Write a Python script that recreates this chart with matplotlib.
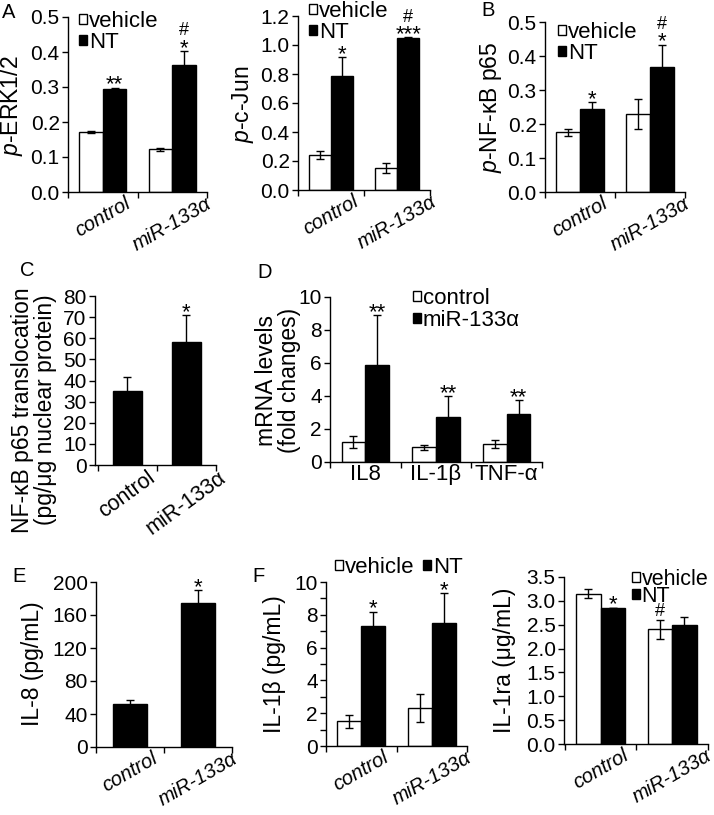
import numpy as np
import matplotlib.pyplot as plt

plt.rcParams['font.family'] = ['Liberation Sans', 'DejaVu Sans']
plt.rcParams['mathtext.fontset'] = 'custom'
plt.rcParams['mathtext.rm'] = 'Liberation Sans'
plt.rcParams['mathtext.it'] = 'Liberation Sans:italic'
plt.rcParams['axes.linewidth'] = 1.0

W, H = 714, 815

groups = ['control', 'miR-133α']
treat = ['vehicle', 'NT']

# A: rows = vehicle, NT ; columns = control, miR-133α
erk = [[0.171, 0.122], [0.294, 0.363]]
erk_sd = [[0.002, 0.004], [0.004, 0.040]]
erk_sig = [[[], []], [['**'], ['*', '#']]]

jun = [[0.240, 0.152], [0.786, 1.050]]
jun_sd = [[0.027, 0.035], [0.130, 0.005]]
jun_sig = [[[], []], [['*'], ['***', '#']]]

# B
p65 = [[0.176, 0.229], [0.244, 0.368]]
p65_sd = [[0.010, 0.045], [0.020, 0.065]]
p65_sig = [[[], []], [['*'], ['*', '#']]]

# C
trans = [35, 58]
trans_sd = [6.5, 13]
trans_sig = [[], ['*']]

# D
genes = ['IL8', 'IL-1β', 'TNF-α']
mrna = [[1.2, 0.9, 1.1], [5.85, 2.75, 2.9]]
mrna_sd = [[0.35, 0.15, 0.25], [3.05, 1.25, 0.85]]
mrna_sig = [[[], [], []], [['**'], ['**'], ['**']]]

# E
il8 = [52, 174]
il8_sd = [5, 16]
il8_sig = [[], ['*']]

# F
il1b = [[1.5, 2.3], [7.3, 7.5]]
il1b_sd = [[0.4, 0.85], [0.9, 1.8]]
il1b_sig = [[[], []], [['*'], ['*']]]

il1ra = [[3.15, 2.40], [2.85, 2.50]]
il1ra_sd = [[0.10, 0.20], [0.005, 0.17]]
il1ra_sig = [[[], ['#']], [['*'], []]]

TICK = 15
XLAB = 14.5
LAB = 16.5
LEG = 16
STAR = 16
HASH = 13

fig = plt.figure(figsize=(W / 100, H / 100), dpi=100)
PT = 100 / 72  # pixels per point


def px(x, y):
    return x / W, 1 - y / H


def make_ax(l, t, r, b):
    ax = fig.add_axes([l / W, 1 - b / H, (r - l) / W, (b - t) / H])
    ax.spines[['top', 'right']].set_visible(False)
    ax.tick_params(axis='y', length=4, width=1, labelsize=TICK, pad=2)
    ax.tick_params(axis='x', which='major', length=0, labelsize=XLAB, pad=1.5)
    ax.tick_params(axis='x', which='minor', length=4, width=1)
    return ax


def yscale(ax, lim, ticks, fmt):
    ax.set_ylim(*lim)
    ax.set_yticks(ticks, [fmt.format(t) for t in ticks])


def xcats(ax, n, labels, xlim, rot=30, italic=True, size=XLAB):
    x = np.arange(n)
    ax.set_xlim(*xlim)
    ax.set_xticks(x, labels, rotation=rot, ha='center', fontsize=size,
                  fontstyle='italic' if italic else 'normal')
    ax.set_xticks(np.arange(n + 1) - 0.5, minor=True)


def marks(ax, xs, tops, sigs):
    # stacked marks: centre of level k sits 10 + 12*k px above the error bar
    for x, t, s in zip(xs, tops, sigs):
        for k, txt in enumerate(s):
            if txt == '#':
                fs, frac = HASH, 0.36
            else:
                fs, frac = STAR, 0.58
            centre = 10 + 12 * k
            off = (centre - frac * fs * PT) / PT
            ax.annotate(txt, (x, t), xytext=(0, off), textcoords='offset points',
                        ha='center', va='baseline', fontsize=fs)


def grouped(ax, means, sds, sigs, width):
    x = np.arange(len(means[0]))
    colors = ['white', 'black']
    handles = []
    for i in range(len(means)):
        pos = x + (i - 0.5) * width
        b = ax.bar(pos, means[i], width, color=colors[i], edgecolor='black',
                   linewidth=1, zorder=2)
        ax.errorbar(pos, means[i], yerr=sds[i], fmt='none', ecolor='black',
                    elinewidth=1, capsize=3, capthick=1, zorder=3)
        marks(ax, pos, np.array(means[i]) + np.array(sds[i]), sigs[i])
        handles.append(b)
    return handles


def single(ax, means, sds, sigs, width):
    x = np.arange(len(means))
    ax.bar(x, means, width, color='black', edgecolor='black', linewidth=1, zorder=2)
    ax.errorbar(x, means, yerr=sds, fmt='none', ecolor='black',
                elinewidth=1, capsize=3, capthick=1, zorder=3)
    marks(ax, x, np.array(means) + np.array(sds), sigs)


def legend(ax, handles, labels, x, y, ncol=1, spacing=0.0, size=LEG):
    ax.legend(handles, labels, loc='upper left', bbox_to_anchor=px(x, y),
              bbox_transform=fig.transFigure, frameon=False, ncol=ncol,
              handlelength=0.35, handleheight=0.35, handletextpad=0.1,
              labelspacing=spacing, columnspacing=0.4, borderpad=0,
              borderaxespad=0, fontsize=size)


def ylab(text, x, y):
    fig.text(*px(x, y), text, rotation=90, ha='center', va='center',
             fontsize=LAB, linespacing=0.95, multialignment='center')


def letter(s, x, y):
    fig.text(*px(x, y), s, ha='center', va='center', fontsize=14.5)


# ---- A: p-ERK1/2
ax = make_ax(68, 17, 207, 192)
h = grouped(ax, erk, erk_sd, erk_sig, 0.34)
yscale(ax, (0, 0.5), np.arange(0, 0.51, 0.1), '{:.1f}')
xcats(ax, 2, groups, (-0.5, 1.48))
legend(ax, h, treat, 79, 11)
ylab('$\\it{p}$-ERK1/2', 12, 106)
letter('A', 9, 12)

# ---- A: p-c-Jun
ax = make_ax(298, 16, 430, 190)
h = grouped(ax, jun, jun_sd, jun_sig, 0.34)
yscale(ax, (0, 1.2), np.arange(0, 1.21, 0.2), '{:.1f}')
xcats(ax, 2, groups, (-0.5, 1.38))
legend(ax, h, treat, 309, 1)
ylab('$\\it{p}$-c-Jun', 243, 104)

# ---- B: p-NF-kB p65
ax = make_ax(545, 22, 685, 192)
h = grouped(ax, p65, p65_sd, p65_sig, 0.34)
yscale(ax, (0, 0.5), np.arange(0, 0.51, 0.1), '{:.1f}')
xcats(ax, 2, groups, (-0.5, 1.48))
legend(ax, h, treat, 558, 22)
ylab('$\\it{p}$-NF-κB p65', 491, 107)
letter('B', 488, 10)

# ---- C: translocation
ax = make_ax(95, 296, 216, 465)
single(ax, trans, trans_sd, trans_sig, 0.49)
yscale(ax, (0, 80), np.arange(0, 81, 10), '{:.0f}')
xcats(ax, 2, groups, (-0.55, 1.5), rot=36, italic=False, size=15.5)
ylab('NF-κB p65 translocation\n(pg/μg nuclear protein)', 34, 410)
letter('C', 27, 270)

# ---- D: mRNA
ax = make_ax(330, 297, 542, 462)
h = grouped(ax, mrna, mrna_sd, mrna_sig, 0.335)
yscale(ax, (0, 10), np.arange(0, 11, 2), '{:.0f}')
xcats(ax, 3, genes, (-0.5, 2.5), rot=0, italic=False, size=16)
legend(ax, h, ['control', 'miR-133α'], 413, 288, spacing=0.05)
ylab('mRNA levels\n(fold changes)', 278, 380)
letter('D', 265, 272)

# ---- E: IL-8
ax = make_ax(96, 582, 232, 747)
single(ax, il8, il8_sd, il8_sig, 0.5)
yscale(ax, (0, 200), np.arange(0, 201, 40), '{:.0f}')
xcats(ax, 2, groups, (-0.5, 1.5))
ylab('IL-8 (pg/mL)', 33, 664)
letter('E', 19, 576)

# ---- F: IL-1b
ax = make_ax(326, 582, 467, 746)
h = grouped(ax, il1b, il1b_sd, il1b_sig, 0.34)
yscale(ax, (0, 10), np.arange(0, 11, 2), '{:.0f}')
ax.set_yticks(np.arange(1, 10, 2), minor=True)
ax.tick_params(axis='y', which='minor', length=4, width=1)
xcats(ax, 2, groups, (-0.5, 1.5))
legend(ax, h, treat, 335, 557, ncol=2)
ylab('IL-1β (pg/mL)', 274, 664)
letter('F', 259, 576)

# ---- F: IL-1ra
ax = make_ax(564, 577, 708, 744)
h = grouped(ax, il1ra, il1ra_sd, il1ra_sig, 0.34)
yscale(ax, (0, 3.5), np.arange(0, 3.51, 0.5), '{:.1f}')
xcats(ax, 2, groups, (-0.51, 1.49))
legend(ax, h, treat, 632, 569, spacing=-0.2, size=15.5)
ylab('IL-1ra (μg/mL)', 505, 660)

fig.savefig('out.png', dpi=100)
